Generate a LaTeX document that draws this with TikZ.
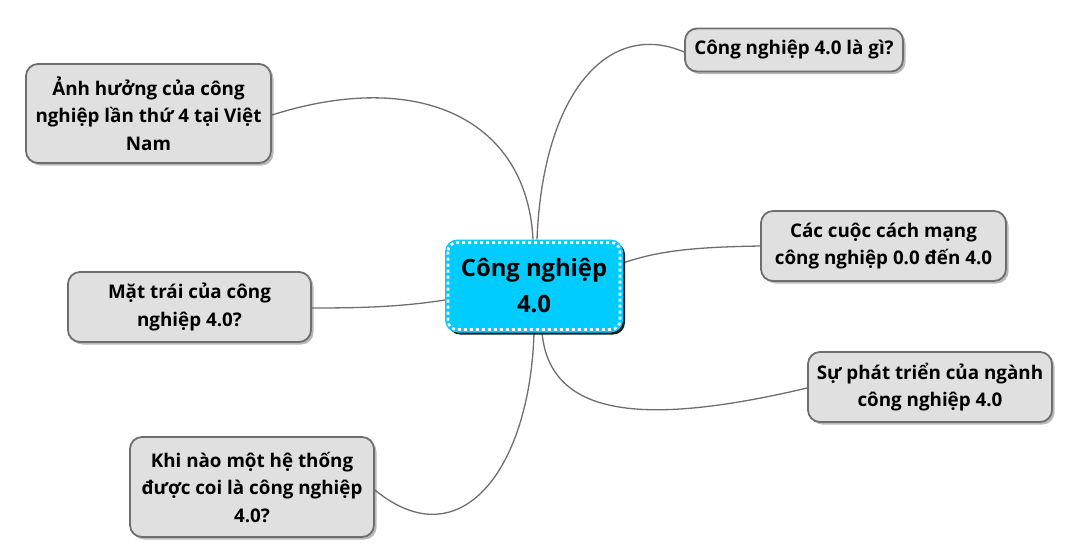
\documentclass[tikz,border=0pt]{standalone}
\usepackage{fontspec}
\setmainfont{Open Sans}
\usetikzlibrary{shadows,backgrounds}
\definecolor{leafgrey}{HTML}{E0E0E0}
\definecolor{edgegrey}{HTML}{6E6E6E}
\definecolor{centercyan}{HTML}{00CCFF}
\tikzset{
  leaf/.style={draw=edgegrey, line width=1.8pt, fill=leafgrey, rounded corners=12pt,
    align=center, font=\bfseries\fontsize{18.8}{27.5}\selectfont, inner sep=0pt,
    drop shadow={shadow xshift=2.5pt, shadow yshift=-2.5pt, opacity=0.45, fill=black!60}},
  hub/.style={fill=centercyan, draw=centercyan, line width=1pt, rounded corners=12pt,
    align=center, font=\bfseries\fontsize{23.8}{36}\selectfont, inner sep=0pt,
    drop shadow={shadow xshift=2.5pt, shadow yshift=-2.5pt, opacity=0.9, fill=black}},
  link/.style={draw=edgegrey, line width=1.3pt},
  hubdash/.style={draw=white, line width=2.6pt, dash pattern=on 3pt off 3pt, rounded corners=9pt}
}
\begin{document}
\begin{tikzpicture}[x=1pt,y=-1pt]
\useasboundingbox (0,0) rectangle (1084,558);

\node[hub, minimum width=177pt, minimum height=92pt] (c) at (534,286) {Công nghiệp\\4.0};
\draw[hubdash] ([shift={(3pt,-3pt)}]c.north west) rectangle ([shift={(-3pt,3pt)}]c.south east);

\node[leaf, minimum width=218pt, minimum height=43pt] (l1) at (794,50) {Công nghiệp 4.0 là gì?};
\node[leaf, minimum width=245pt, minimum height=99pt] (l2) at (148.5,113.5) {Ảnh hưởng của công\\nghiệp lần thứ 4 tại Việt\\Nam};
\node[leaf, minimum width=245pt, minimum height=70pt] (l3) at (883.5,246) {Các cuộc cách mạng\\công nghiệp 0.0 đến 4.0};
\node[leaf, minimum width=243pt, minimum height=70pt] (l4) at (189.5,307) {Mặt trái của công\\nghiệp 4.0?};
\node[leaf, minimum width=244pt, minimum height=70pt] (l5) at (930,387) {Sự phát triển của ngành\\công nghiệp 4.0};
\node[leaf, minimum width=244pt, minimum height=100pt] (l6) at (252,487) {Khi nào một hệ thống\\được coi là công nghiệp\\4.0?};

\begin{pgfonlayer}{background}
\draw[link] ([xshift=-1pt]c.north) .. controls (527,120) and (420,68) .. ([yshift=-1.5pt]l2.east);
\draw[link] ([xshift=3pt]c.north) .. controls (543,90) and (610,20) .. ([yshift=-2pt]l1.west);
\draw[link] ([yshift=23pt]c.east) .. controls (660,250) and (700,247) .. (l3.west);
\draw[link] ([yshift=-14pt]c.west) .. controls (400,307) and (360,308) .. ([yshift=-1pt]l4.east);
\draw[link] (c.south) .. controls (530,470) and (460,560) .. ([yshift=-3pt]l6.east);
\draw[link] ([xshift=8pt]c.south) .. controls (550,420) and (650,425) .. ([yshift=-1pt]l5.west);
\end{pgfonlayer}
\end{tikzpicture}
\end{document}
